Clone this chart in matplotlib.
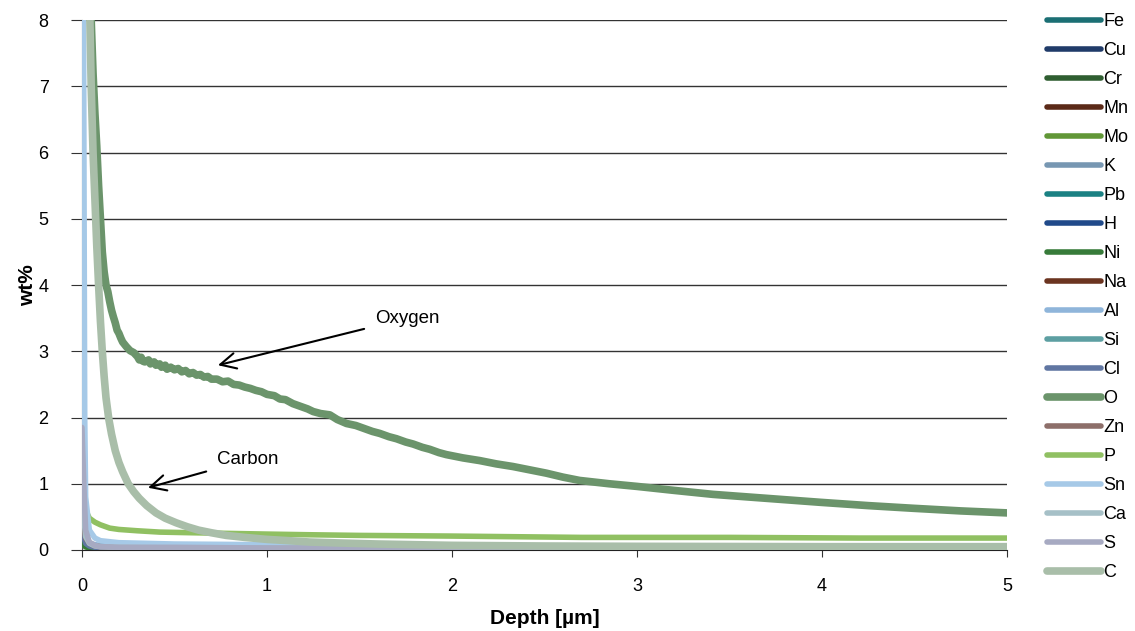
import matplotlib
matplotlib.use("Agg")
import matplotlib.pyplot as plt

plt.rcParams['font.family'] = ['Liberation Sans', 'DejaVu Sans']

# common depth grid for the minor elements (um)
depth = [0, 0.01, 0.02, 0.04, 0.07, 0.1, 0.2, 0.5, 1, 2, 3, 4, 5]

fe = [0.30, 0.20, 0.10, 0.06, 0.04, 0.03, 0.02, 0.01, 0.01, 0.01, 0.01, 0.01, 0.01]
cu = [0.25, 0.15, 0.08, 0.05, 0.04, 0.03, 0.02, 0.02, 0.01, 0.01, 0.01, 0.01, 0.01]
cr = [0.15, 0.10, 0.06, 0.04, 0.03, 0.02, 0.02, 0.01, 0.01, 0.01, 0.01, 0.01, 0.01]
mn = [0.40, 0.30, 0.15, 0.07, 0.04, 0.03, 0.02, 0.01, 0.01, 0.01, 0.01, 0.01, 0.01]
mo = [0.10, 0.07, 0.05, 0.03, 0.02, 0.02, 0.01, 0.01, 0.01, 0.01, 0.01, 0.01, 0.01]
k = [0.35, 0.25, 0.12, 0.07, 0.05, 0.04, 0.03, 0.02, 0.02, 0.01, 0.01, 0.01, 0.01]
pb = [0.20, 0.12, 0.07, 0.04, 0.03, 0.02, 0.02, 0.01, 0.01, 0.01, 0.01, 0.01, 0.01]
h = [0.20, 0.12, 0.08, 0.06, 0.06, 0.05, 0.03, 0.02, 0.02, 0.01, 0.01, 0.01, 0.01]
ni = [0.10, 0.07, 0.05, 0.03, 0.02, 0.02, 0.01, 0.01, 0.01, 0.01, 0.01, 0.01, 0.01]
na = [0.45, 0.30, 0.15, 0.08, 0.05, 0.04, 0.03, 0.02, 0.02, 0.01, 0.01, 0.01, 0.01]
al = [0.60, 0.40, 0.20, 0.10, 0.08, 0.07, 0.06, 0.05, 0.04, 0.03, 0.03, 0.03, 0.03]
si = [0.50, 0.30, 0.15, 0.08, 0.06, 0.05, 0.04, 0.03, 0.03, 0.02, 0.02, 0.02, 0.02]
cl = [0.30, 0.20, 0.10, 0.06, 0.04, 0.03, 0.02, 0.02, 0.01, 0.01, 0.01, 0.01, 0.01]
zn = [0.50, 0.35, 0.18, 0.10, 0.06, 0.05, 0.04, 0.03, 0.02, 0.02, 0.02, 0.02, 0.02]
ca = [0.80, 0.50, 0.20, 0.10, 0.06, 0.05, 0.04, 0.03, 0.03, 0.03, 0.03, 0.03, 0.03]
s = [1.85, 1.00, 0.30, 0.12, 0.07, 0.05, 0.04, 0.04, 0.03, 0.03, 0.03, 0.03, 0.03]

sn_depth = [0, 0.008, 0.015, 0.02, 0.04, 0.07, 0.1, 0.2, 0.5, 1.0, 1.5, 2.0, 5.0]
sn = [10.0, 8.5, 2.0, 0.8, 0.3, 0.18, 0.14, 0.11, 0.09, 0.08, 0.05, 0.04, 0.03]

p_depth = [0.01, 0.02, 0.04, 0.07, 0.1, 0.15, 0.2, 0.3, 0.42, 0.6, 1.0, 1.23,
           1.5, 2.0, 2.7, 3.5, 4.2, 5.0]
p = [1.2, 0.6, 0.48, 0.42, 0.38, 0.33, 0.31, 0.29, 0.27, 0.26, 0.24, 0.23,
     0.22, 0.21, 0.19, 0.19, 0.18, 0.18]

o_depth = [0.03, 0.05, 0.06, 0.07, 0.08, 0.09, 0.10, 0.11, 0.12, 0.13, 0.14,
           0.15, 0.16, 0.17, 0.18, 0.19, 0.20, 0.21, 0.22, 0.24, 0.26, 0.28,
           0.30, 0.31, 0.32, 0.33, 0.34, 0.36, 0.37, 0.39, 0.40, 0.42, 0.43,
           0.45, 0.46, 0.48, 0.50, 0.52, 0.54, 0.56, 0.58, 0.60, 0.62, 0.64,
           0.66, 0.68, 0.70, 0.73, 0.76, 0.79, 0.82, 0.85, 0.88, 0.91, 0.94,
           0.97, 1.00, 1.04, 1.07, 1.10, 1.14, 1.18, 1.22, 1.25, 1.29, 1.34,
           1.38, 1.43, 1.48, 1.52, 1.57, 1.61, 1.66, 1.70, 1.75, 1.79, 1.84,
           1.88, 1.93, 1.97, 2.06, 2.15, 2.24, 2.33, 2.42, 2.51, 2.60, 2.69,
           2.85, 3.00, 3.20, 3.41, 3.70, 3.99, 4.25, 4.49, 4.75, 5.00]
o = [10.0, 8.0, 7.2, 6.6, 6.1, 5.5, 5.0, 4.5, 4.2, 4.0, 3.9,
     3.75, 3.62, 3.52, 3.43, 3.32, 3.27, 3.20, 3.14, 3.07, 3.01, 2.98,
     2.92, 2.87, 2.91, 2.85, 2.84, 2.87, 2.81, 2.84, 2.79, 2.81, 2.76,
     2.79, 2.73, 2.76, 2.72, 2.74, 2.69, 2.71, 2.66, 2.68, 2.64, 2.65,
     2.61, 2.62, 2.58, 2.58, 2.54, 2.55, 2.50, 2.49, 2.46, 2.44, 2.41,
     2.39, 2.35, 2.33, 2.28, 2.27, 2.21, 2.17, 2.13, 2.09, 2.06, 2.04,
     1.97, 1.91, 1.88, 1.84, 1.79, 1.76, 1.71, 1.68, 1.63, 1.60, 1.55,
     1.52, 1.47, 1.44, 1.39, 1.35, 1.30, 1.26, 1.21, 1.16, 1.10, 1.05,
     1.00, 0.96, 0.90, 0.84, 0.78, 0.72, 0.67, 0.63, 0.59, 0.56]

c_depth = [0.03, 0.043, 0.05, 0.06, 0.07, 0.08, 0.09, 0.10, 0.11, 0.12, 0.13,
           0.145, 0.16, 0.18, 0.20, 0.22, 0.25, 0.28, 0.31, 0.35, 0.40, 0.45,
           0.51, 0.57, 0.63, 0.70, 0.78, 0.88, 1.0, 1.12, 1.23, 1.4, 1.6,
           1.8, 2.0, 2.5, 3.0, 4.0, 5.0]
c = [9.5, 8.0, 7.0, 6.0, 5.3, 4.6, 4.0, 3.45, 3.0, 2.62, 2.3,
     1.98, 1.75, 1.5, 1.32, 1.18, 1.0, 0.88, 0.78, 0.67, 0.56, 0.48,
     0.41, 0.35, 0.30, 0.26, 0.22, 0.19, 0.16, 0.14, 0.12, 0.105, 0.09,
     0.08, 0.07, 0.06, 0.055, 0.05, 0.05]

series = [
    ("Fe", depth, fe, "#1b6f74"),
    ("Cu", depth, cu, "#203b69"),
    ("Cr", depth, cr, "#2f5e31"),
    ("Mn", depth, mn, "#5b2a18"),
    ("Mo", depth, mo, "#619737"),
    ("K", depth, k, "#7797b2"),
    ("Pb", depth, pb, "#1b8183"),
    ("H", depth, h, "#204a8a"),
    ("Ni", depth, ni, "#377b3a"),
    ("Na", depth, na, "#6b3420"),
    ("Al", depth, al, "#8fb5da"),
    ("Si", depth, si, "#5d9fa2"),
    ("Cl", depth, cl, "#6076a2"),
    ("O", o_depth, o, "#6b946b"),
    ("Zn", depth, zn, "#8d6f6a"),
    ("P", p_depth, p, "#90c062"),
    ("Sn", sn_depth, sn, "#a6c9e7"),
    ("Ca", depth, ca, "#a6c0c7"),
    ("S", depth, s, "#a7aac2"),
    ("C", c_depth, c, "#a9bea9"),
]

fig = plt.figure(figsize=(11.35, 6.31), dpi=100)
ax = fig.add_axes([0.0722, 0.1284, 0.8150, 0.8396])

for name, xs, ys, col in series:
    lw = 5.5 if name in ("O", "C") else 4
    ax.plot(xs, ys, color=col, lw=lw, label=name, zorder=3,
            solid_capstyle='round', solid_joinstyle='round')

ax.set_xlim(0, 5)
ax.set_ylim(0, 8)
ax.set_yticks(range(0, 9))
ax.set_xticks(range(0, 6))
ax.yaxis.grid(True, color='#333333', lw=1)
ax.set_axisbelow(True)
for sp in ("top", "right"):
    ax.spines[sp].set_visible(False)
ax.spines['left'].set_color('#555555')
ax.spines['bottom'].set_color('#222222')
ax.tick_params(axis='both', direction='out', labelsize=13, color='#333333')
ax.tick_params(axis='y', length=8, pad=16)
ax.tick_params(axis='x', length=5, pad=15)
ax.set_xlabel("Depth [µm]", fontsize=15, fontweight='bold', labelpad=10)
ax.set_ylabel("wt%", fontsize=15, fontweight='bold', labelpad=1)

ax.annotate("Oxygen", xy=(0.735, 2.79), xytext=(1.584, 3.5),
            fontsize=13.5, va='center', ha='left',
            arrowprops=dict(arrowstyle='->', color='black', lw=1.5,
                            mutation_scale=28, shrinkA=6, shrinkB=0))
ax.annotate("Carbon", xy=(0.357, 0.94), xytext=(0.73, 1.36),
            fontsize=13.5, va='center', ha='left',
            arrowprops=dict(arrowstyle='->', color='black', lw=1.5,
                            mutation_scale=28, shrinkA=6, shrinkB=0))

fig.legend(loc='upper left', bbox_to_anchor=(0.911, 0.999), frameon=False,
           fontsize=13, handlelength=3.0, handletextpad=0.15,
           labelspacing=0.665, borderaxespad=0.3)

fig.savefig("out.png", dpi=100)
